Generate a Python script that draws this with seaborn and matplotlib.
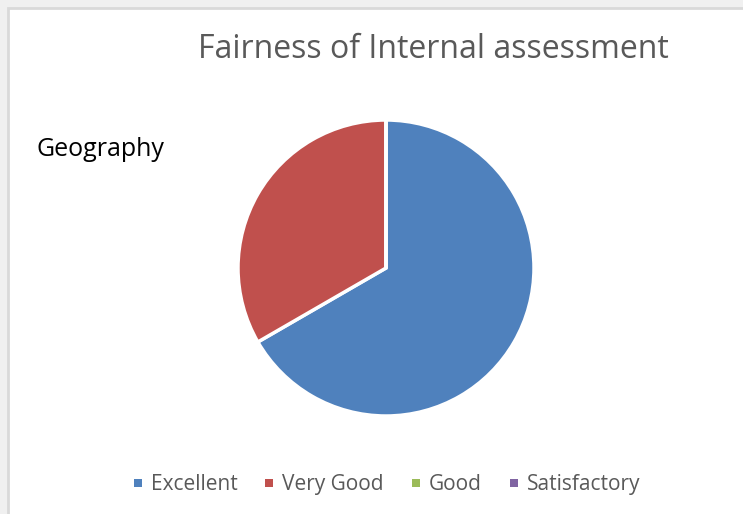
import matplotlib
matplotlib.use("Agg")
import matplotlib.pyplot as plt
import seaborn as sns
from matplotlib.patches import Rectangle

sns.set_theme(style="white")
plt.rcParams["font.family"] = ["Open Sans", "DejaVu Sans"]

categories = ["Excellent", "Very Good", "Good", "Satisfactory"]
responses = [2, 1, 0, 0]
colors = ["#4F81BD", "#C0504D", "#9BBB59", "#8064A2"]
title = "Fairness of Internal assessment"
subject = "Geography"

W, H = 743, 514
fig = plt.figure(figsize=(W / 100, H / 100), dpi=100)
fig.patch.set_facecolor("#F0F0F0")

# chart frame: white panel with a light grey border, running off the right/bottom
fig.patches.append(Rectangle((8 / W, -0.05), 1.1, 1.05 - 8 / H, transform=fig.transFigure,
                             facecolor="white", edgecolor="#D9D9D9", linewidth=2.0,
                             zorder=-1))

# pie axes: centre (386, 268), radius 148 px
cx, cy, r = 386, 268, 148
ax = fig.add_axes([(cx - r) / W, 1 - (cy + r) / H, 2 * r / W, 2 * r / H])
ax.set_zorder(2)
wedges, _ = ax.pie(responses, colors=colors, startangle=90, counterclock=False,
                   radius=1.0, wedgeprops=dict(edgecolor="white", linewidth=2.5))
ax.set_xlim(-1, 1)
ax.set_ylim(-1, 1)
ax.set_aspect("equal")
ax.axis("off")

fig.text(433 / W, 1 - 49 / H, title, ha="center", va="center",
         fontsize=23, color="#595959")
fig.text(37 / W, 1 - 149 / H, subject, ha="left", va="center",
         fontsize=18, color="black")

# legend row: square swatch + label, all labels on a common baseline
renderer = fig.canvas.get_renderer()
sq, pad, gap = 8, 9, 28
baseline, sq_mid = 490, 483
labels = []
for name in categories:
    t = fig.text(0, 1 - baseline / H, name, ha="left", va="baseline",
                 fontsize=15, color="#595959")
    labels.append((t, t.get_window_extent(renderer).width))
total = sum(sq + pad + w for _, w in labels) + gap * (len(labels) - 1)
x = 387 - total / 2
for (t, w), c in zip(labels, colors):
    fig.patches.append(Rectangle((x / W, 1 - (sq_mid + sq / 2) / H), sq / W, sq / H,
                                 transform=fig.transFigure, facecolor=c,
                                 edgecolor="none"))
    t.set_x((x + sq + pad) / W)
    x += sq + pad + w + gap

fig.savefig("out.png", dpi=100, facecolor=fig.get_facecolor())
